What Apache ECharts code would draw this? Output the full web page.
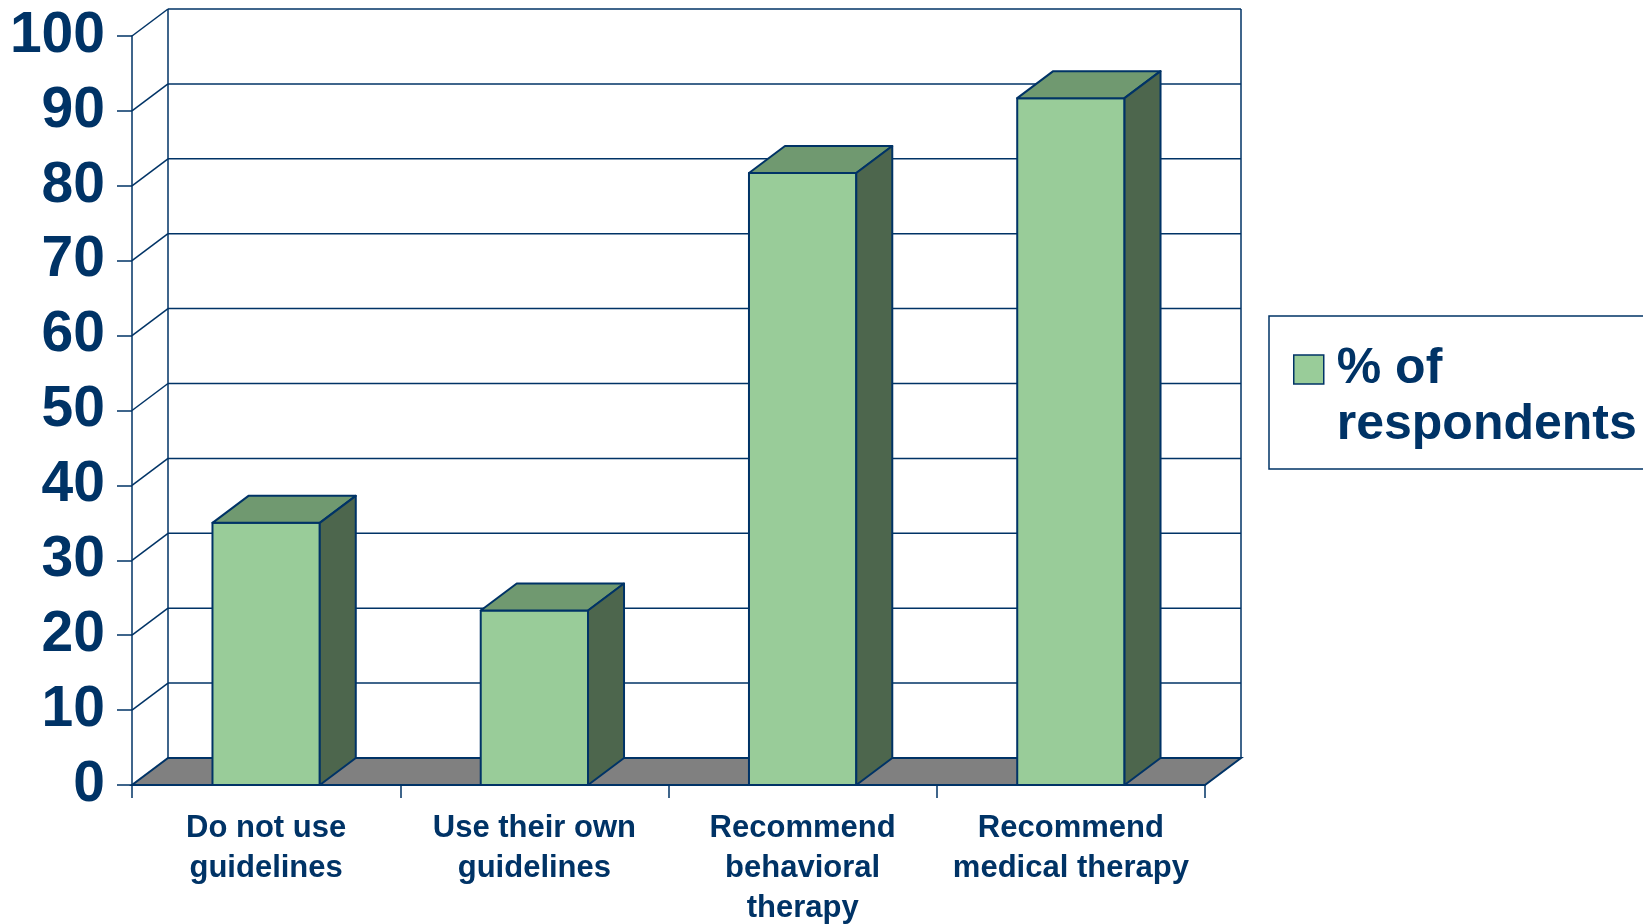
<!DOCTYPE html>
<html><head><meta charset="utf-8">
<script src="https://cdn.jsdelivr.net/npm/echarts@6/dist/echarts.min.js"></script>
<style>html,body{margin:0;padding:0;background:#fff}#c{width:1643px;height:924px}</style>
</head><body><div id="c"></div>
<script>
const categories = ['Do not use\nguidelines', 'Use their own\nguidelines', 'Recommend\nbehavioral\ntherapy', 'Recommend\nmedical therapy'];
const seriesName = '% of respondents';
const values = [35, 23.3, 81.7, 91.7];
const yTicks = [0, 10, 20, 30, 40, 50, 60, 70, 80, 90, 100];

const NAVY = '#003366';
const DX = 36, DY = -27;
const FONT = 'Arial, "Liberation Sans", Helvetica, sans-serif';

const chart = echarts.init(document.getElementById('c'), null, {renderer: 'canvas'});

function wallItem(params, api) {
  const v = api.value(1);
  const p = api.coord([0, v]);
  const band = api.size([1, 0])[0];
  const L = p[0] - band / 2, R = L + band * categories.length;
  const y = p[1];
  const children = [];
  const ln = {stroke: NAVY, lineWidth: 1.5};
  if (v === 0) {
    const yTop = api.coord([0, yTicks[yTicks.length - 1]])[1];
    children.push({type: 'polygon', shape: {points: [[L, y], [R, y], [R + DX, y + DY], [L + DX, y + DY]]},
      style: {fill: '#808080', stroke: NAVY, lineWidth: 2}});
    children.push({type: 'line', shape: {x1: L + DX, y1: yTop + DY, x2: L + DX, y2: y + DY}, style: ln});
    children.push({type: 'line', shape: {x1: R + DX, y1: yTop + DY, x2: R + DX, y2: y + DY}, style: ln});
  } else {
    children.push({type: 'line', shape: {x1: L + DX, y1: y + DY, x2: R + DX, y2: y + DY}, style: ln});
    children.push({type: 'line', shape: {x1: L, y1: y, x2: L + DX, y2: y + DY}, style: ln});
  }
  return {type: 'group', children: children};
}

function barItem(params, api) {
  const i = api.value(0), v = api.value(1);
  const top = api.coord([i, v]);
  const bot = api.coord([i, 0]);
  const w = api.size([1, 0])[0] * 0.4;
  const x0 = top[0] - w / 2, x1 = top[0] + w / 2, yt = top[1], yb = bot[1];
  const st = {stroke: NAVY, lineWidth: 2, lineJoin: 'round'};
  return {type: 'group', children: [
    {type: 'polygon', shape: {points: [[x0, yt], [x1, yt], [x1, yb], [x0, yb]]}, style: Object.assign({fill: '#99CC99'}, st)},
    {type: 'polygon', shape: {points: [[x0, yt], [x0 + DX, yt + DY], [x1 + DX, yt + DY], [x1, yt]]}, style: Object.assign({fill: '#709970'}, st)},
    {type: 'polygon', shape: {points: [[x1, yt], [x1 + DX, yt + DY], [x1 + DX, yb + DY], [x1, yb]]}, style: Object.assign({fill: '#4D664D'}, st)}
  ]};
}

chart.setOption({
  animation: false,
  backgroundColor: '#ffffff',
  grid: {left: 132, right: 438, top: 36, bottom: 139, containLabel: false, outerBoundsMode: 'none'},
  xAxis: {
    type: 'category', data: categories,
    axisLine: {show: true, lineStyle: {color: NAVY, width: 2}},
    axisTick: {show: true, length: 13, lineStyle: {color: NAVY, width: 1.5}},
    axisLabel: {interval: 0, color: NAVY, fontFamily: FONT, fontWeight: 'bold', fontSize: 31, lineHeight: 40, margin: 23},
    splitLine: {show: false}
  },
  yAxis: {
    type: 'value', min: 0, max: 100, interval: 10,
    axisLine: {show: true, lineStyle: {color: NAVY, width: 1.5}},
    axisTick: {show: true, length: 15, lineStyle: {color: NAVY, width: 1.5}},
    axisLabel: {color: NAVY, fontFamily: FONT, fontWeight: 'bold', fontSize: 57, margin: 27, padding: [10, 0, 0, 0], showMinLabel: true, showMaxLabel: true},
    splitLine: {show: false}
  },
  legend: {
    data: [seriesName], left: 1269, top: 316, orient: 'vertical',
    padding: [25, 30, 16, 24], borderColor: NAVY, borderWidth: 1.5, backgroundColor: '#ffffff',
    itemWidth: 30, itemHeight: 84, icon: 'path://M0,0L30,0L30,29L0,29Z M0,84',
    itemStyle: {color: '#99CC99', borderColor: NAVY, borderWidth: 1.5},
    formatter: function (n) { return n.replace(' of ', ' of\n'); },
    textStyle: {color: NAVY, fontFamily: FONT, fontWeight: 'bold', fontSize: 50, lineHeight: 56, padding: [0, 0, 0, 8]},
    selectedMode: false
  },
  series: [
    {type: 'custom', name: 'wall', renderItem: wallItem, data: yTicks.map(function (v) { return [0, v]; }), z: 1, silent: true, clip: false},
    {type: 'custom', name: seriesName, renderItem: barItem, data: values.map(function (v, i) { return [i, v]; }), z: 3, clip: false,
      itemStyle: {color: '#99CC99', borderColor: NAVY, borderWidth: 1.5}}
  ]
});
</script></body></html>
